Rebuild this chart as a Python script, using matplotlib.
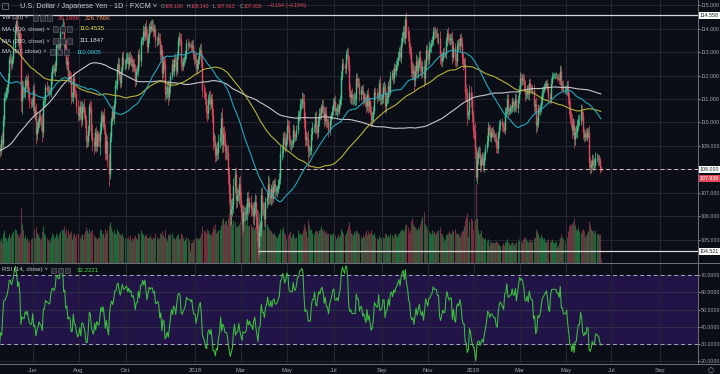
import numpy as np
import pandas as pd
import matplotlib
matplotlib.use("Agg")
import matplotlib.pyplot as plt
from matplotlib.patches import Rectangle
from matplotlib.lines import Line2D
from matplotlib.transforms import blended_transform_factory

plt.rcParams['font.family'] = ['Liberation Sans', 'DejaVu Sans']

# USD/JPY daily, FXCM. Closes, one line per month.
# Bars before the visible window only seed the moving averages and the RSI.
pre_close = [
    104.5, 104.7, 105.6, 104.9, 106.2, 106.1, 106.9, 105.8, 106.1, 106.2, 104.6, 105.2, 105.0, 102.1,
    102.3, 101.3, 101.2, 100.8, 101.8, 102.5, 101.8, 101.4, 101.0, 101.3, 100.2, 101.2, 100.3, 99.9, 100.2, 100.7, 100.3, 100.5, 100.5, 101.8, 102.1, 102.3, 103.3,
    103.5, 104.0, 103.4, 102.0, 101.7, 102.0, 102.6, 102.7, 102.3, 102.0, 101.9, 102.1, 101.7, 100.8, 100.4, 101.0, 100.6, 100.3, 100.8, 101.3, 100.5, 101.3,
    101.6, 102.8, 103.4, 103.5, 102.9, 103.7, 104.0, 103.8, 103.6, 103.7, 104.0, 104.0, 103.9, 103.5, 103.8, 103.9, 104.2, 104.3, 104.5, 104.6, 104.8,
    104.2, 103.1, 103.1, 103.1, 104.5, 105.3, 105.7, 106.8, 106.6, 108.1, 109.1, 109.0, 110.2, 110.9, 110.8, 111.0, 112.5, 113.3, 113.2, 112.0, 112.4, 114.4,
    114.0, 113.6, 114.0, 113.8, 114.0, 114.2, 115.2, 115.3, 115.3, 115.1, 117.8, 118.0, 117.9, 117.2, 117.6, 117.6, 117.5, 117.3, 117.3, 117.7, 116.6, 116.9,
    117.5, 117.8, 116.3, 116.9, 117.0, 115.9, 116.0, 114.4, 114.6, 112.7, 113.3, 114.8, 114.6, 112.8, 113.5, 113.7, 113.3, 114.6, 115.0, 113.6, 112.8, 112.8,
    113.0, 113.2, 112.6, 112.4, 111.9, 111.9, 113.3, 113.2, 113.2, 113.7, 114.5, 113.7, 113.2, 112.8, 113.5, 113.6, 113.3, 112.6, 112.1, 112.8,
    114.0, 114.0, 114.1, 113.8, 114.0, 114.3, 114.8, 114.8, 114.7, 114.7, 113.4, 112.7, 112.7, 112.7, 112.0, 111.6, 110.8, 111.2, 110.7, 111.0, 111.1, 111.4, 111.4,
    110.4, 110.7, 110.7, 110.8, 111.1, 110.6, 109.8, 109.0, 109.1, 108.6, 108.7,
]
first_day = '2017-04-18'

close_2017 = [
    108.9, 108.8, 109.3, 109.1, 110.1, 111.1, 111.1, 111.3, 111.5,
    111.9, 112.7, 112.7, 112.5, 112.7, 113.2, 114.0, 114.3, 113.9, 113.4, 113.8, 113.2, 110.9, 111.5, 111.3, 111.3, 111.8, 111.6, 111.8, 111.3, 110.9, 110.8, 110.8,
    111.4, 110.4, 110.5, 109.5, 109.8, 110.0, 110.3, 110.1, 110.0, 109.6, 110.9, 110.9, 111.5, 111.4, 111.4, 111.3, 111.3, 111.9, 112.3, 112.3, 112.2, 112.4,
    113.3, 113.3, 113.2, 113.2, 113.9, 114.0, 114.0, 113.2, 113.3, 112.5, 112.6, 111.9, 112.0, 111.9, 111.1, 111.1, 111.9, 111.3, 111.2, 110.7, 110.3,
    110.4, 110.7, 110.1, 110.7, 110.7, 110.4, 110.1, 109.2, 109.2, 109.7, 110.7, 110.6, 109.6, 109.2, 109.0, 109.6, 109.0, 109.5, 109.3, 109.2, 109.7, 110.3, 110.0,
    110.3, 109.7, 108.7, 109.2, 108.4, 107.8, 109.4, 110.1, 110.5, 110.2, 110.8, 111.6, 111.6, 112.3, 112.5, 112.0, 111.7, 112.2, 112.8, 112.5, 112.5,
    112.7, 112.8, 112.5, 112.8, 112.6, 112.7, 112.4, 112.5, 112.3, 111.8, 112.2, 112.2, 112.9, 112.6, 113.5, 113.5, 113.9, 113.7, 114.1, 113.7, 113.2, 113.6,
    114.1, 114.0, 114.1, 114.1, 113.9, 114.0, 113.5, 113.5, 113.6, 113.5, 112.9, 113.1, 112.1, 112.6, 112.5, 111.2, 111.3, 111.5, 111.1, 111.5, 112.0, 112.5,
    112.2, 112.7, 112.6, 112.2, 112.9, 113.5, 113.6, 113.5, 112.5, 112.4, 112.6, 112.7, 112.9, 113.4, 113.3, 113.3, 113.3, 113.2, 113.3, 112.9, 112.7,
]
close_2018 = [
    112.7, 112.3, 112.5, 112.7, 113.0, 113.1, 112.6, 111.4, 111.3, 111.0, 110.5, 110.4, 111.0, 111.1, 110.8, 111.0, 110.3, 109.2, 109.2, 108.6, 108.9, 108.7, 109.2,
    109.4, 110.2, 109.1, 109.5, 109.3, 108.8, 108.8, 108.7, 107.8, 107.0, 106.1, 106.3, 106.5, 107.3, 107.8, 106.7, 106.9, 106.9, 107.4, 106.7,
    106.2, 105.7, 106.2, 106.1, 106.1, 106.2, 106.8, 106.4, 106.6, 106.3, 106.3, 106.0, 106.4, 106.6, 105.9, 105.3, 104.7, 105.4, 105.5, 106.9, 106.3, 106.3,
    105.9, 106.6, 106.8, 107.4, 106.9, 106.8, 107.2, 106.8, 107.3, 107.4, 107.1, 107.1, 107.2, 107.4, 107.6, 108.7, 108.8, 109.4, 109.3, 109.0, 109.3,
    109.9, 109.8, 109.2, 109.1, 109.1, 109.1, 109.7, 109.4, 109.4, 109.7, 110.3, 110.3, 110.8, 110.8, 111.0, 110.9, 110.1, 109.3, 109.4, 109.3, 108.8, 108.8, 108.8,
    109.5, 109.8, 109.8, 110.2, 109.7, 109.6, 110.1, 110.4, 110.3, 110.6, 110.7, 110.5, 110.1, 110.4, 110.0, 110.0, 109.7, 110.1, 110.3, 110.5, 110.8,
    110.9, 110.5, 110.5, 110.6, 110.5, 110.8, 111.0, 112.0, 112.5, 112.4, 112.3, 112.9, 112.9, 112.5, 111.4, 111.1, 111.2, 111.0, 111.0, 111.0, 111.0, 111.9,
    111.7, 111.7, 111.2, 111.4, 111.4, 111.0, 111.1, 110.9, 110.7, 111.2, 110.7, 110.9, 110.5, 110.1, 110.2, 110.5, 111.3, 111.2, 111.1, 111.1, 111.7, 111.0, 111.0,
    111.1, 111.5, 111.5, 110.7, 111.0, 111.1, 111.6, 111.3, 112.0, 112.1, 111.9, 112.3, 112.2, 112.5, 112.6, 112.8, 113.0, 112.8, 113.4, 113.7,
    113.9, 113.6, 114.4, 113.9, 113.7, 113.2, 113.0, 112.3, 112.1, 112.2, 111.8, 112.2, 112.6, 112.2, 112.5, 112.8, 112.4, 112.2, 112.4, 111.9, 112.4, 113.1, 112.9,
    112.7, 113.2, 113.2, 113.4, 113.5, 113.9, 113.8, 113.8, 113.8, 113.6, 113.6, 112.8, 112.6, 112.8, 113.0, 112.9, 112.9, 113.5, 113.8, 113.6, 113.5, 113.6,
    113.6, 112.8, 113.2, 112.7, 112.6, 113.3, 113.4, 113.3, 113.6, 113.4, 112.8, 112.5, 112.5, 111.3, 111.2, 110.3, 110.4, 111.3, 111.0, 110.3, 109.7,
]
close_2019 = [
    109.6, 108.9, 107.7, 108.5, 108.7, 108.7, 108.2, 108.4, 108.5, 108.2, 108.6, 108.9, 109.2, 109.8, 109.7, 109.4, 109.6, 109.6, 109.5, 109.4, 109.4, 109.0, 108.9,
    109.5, 109.9, 110.0, 109.9, 109.8, 109.7, 110.4, 110.5, 111.0, 110.5, 110.5, 110.6, 110.6, 110.9, 110.7, 110.7, 111.0, 110.6, 111.0, 111.4,
    111.9, 111.8, 111.9, 111.8, 111.6, 111.2, 111.2, 111.4, 111.2, 111.7, 111.5, 111.4, 111.4, 110.7, 110.8, 109.9, 110.0, 110.6, 110.5, 110.6, 110.9,
    111.3, 111.4, 111.5, 111.6, 111.7, 111.5, 111.1, 111.0, 111.7, 112.0, 112.0, 112.0, 112.0, 112.0, 111.9, 111.9, 111.8, 112.2, 111.6, 111.6, 111.4, 111.4,
    111.4, 111.5, 111.1, 110.7, 110.2, 110.1, 109.7, 109.9, 109.3, 109.6, 109.6, 109.9, 110.1, 110.1, 110.5, 110.3, 109.6, 109.4, 109.5, 109.4, 109.6, 109.6, 108.3,
    108.1, 108.2, 108.4, 108.2, 108.2, 108.5, 108.5, 108.4, 108.4, 108.1, 107.936,
]

# upper / lower wicks beyond the body, in hundredths of a yen
up_2017 = [
    25, 20, 15, 30, 20, 15, 25, 20, 15,
    20, 15, 25, 20, 15, 30, 20, 10, 30, 25, 15, 20, 60, 30, 25, 20, 15, 25, 20, 30, 20, 15, 25,
    20, 30, 20, 35, 25, 20, 15, 25, 20, 40, 20, 25, 15, 25, 20, 15, 20, 25, 15, 20, 25, 20,
    15, 20, 25, 20, 15, 20, 45, 30, 20, 25, 20, 30, 25, 20, 25, 20, 15, 30, 25, 20, 25,
    30, 20, 25, 20, 15, 30, 25, 20, 25, 20, 15, 25, 30, 35, 20, 15, 25, 20, 15, 25, 30, 20, 25,
    15, 30, 25, 35, 25, 30, 20, 15, 20, 25, 15, 20, 20, 25, 30, 25, 20, 15, 20, 25, 20,
    25, 20, 15, 20, 25, 20, 15, 20, 25, 20, 15, 25, 20, 25, 15, 20, 25, 20, 15, 25, 30, 20,
    15, 20, 25, 30, 25, 20, 15, 20, 25, 20, 30, 25, 20, 25, 20, 35, 25, 20, 30, 20, 15, 20,
    20, 15, 25, 20, 15, 20, 25, 20, 30, 25, 20, 15, 20, 15, 20, 15, 10, 15, 20, 25, 20,
]
up_2018 = [
    20, 25, 20, 15, 20, 25, 30, 35, 25, 20, 30, 25, 20, 25, 30, 20, 25, 30, 35, 25, 20, 25, 30,
    35, 25, 40, 30, 35, 40, 30, 25, 35, 30, 40, 45, 30, 35, 25, 30, 35, 25, 30, 35,
    40, 35, 30, 25, 30, 35, 25, 30, 25, 30, 25, 30, 25, 35, 30, 40, 35, 30, 25, 30, 35, 30,
    30, 25, 30, 35, 30, 25, 20, 30, 25, 20, 25, 20, 15, 20, 25, 30, 25, 20, 25, 30, 20,
    25, 20, 30, 25, 20, 15, 25, 20, 15, 20, 25, 20, 25, 20, 30, 25, 30, 35, 25, 20, 40, 25, 20,
    25, 20, 15, 25, 30, 20, 15, 20, 25, 20, 25, 30, 20, 25, 30, 20, 25, 20, 15, 20, 25,
    20, 25, 15, 20, 25, 20, 15, 20, 25, 20, 15, 20, 25, 30, 35, 25, 20, 25, 20, 30, 25, 20,
    20, 25, 20, 15, 20, 25, 20, 15, 25, 20, 25, 20, 15, 20, 25, 20, 15, 20, 25, 20, 15, 30, 20,
    15, 20, 25, 20, 30, 20, 15, 25, 20, 15, 20, 25, 20, 15, 20, 25, 20, 25, 20, 15,
    20, 25, 15, 30, 20, 25, 20, 25, 30, 35, 25, 20, 30, 25, 20, 25, 30, 25, 20, 30, 25, 20, 25,
    20, 25, 20, 15, 20, 15, 20, 25, 20, 25, 20, 30, 25, 20, 15, 20, 10, 15, 20, 25, 20, 15,
    20, 30, 25, 20, 25, 20, 15, 20, 15, 20, 25, 20, 25, 30, 35, 25, 15, 30, 25, 30, 25,
]
up_2019 = [
    20, 40, 10, 30, 25, 30, 25, 20, 25, 20, 15, 20, 25, 20, 15, 20, 15, 20, 25, 20, 15, 20, 25,
    15, 20, 15, 20, 15, 20, 25, 15, 20, 25, 15, 20, 15, 20, 15, 20, 25, 20, 15, 20,
    25, 20, 15, 20, 25, 20, 15, 20, 25, 15, 20, 15, 20, 25, 20, 30, 25, 20, 15, 20, 25,
    20, 15, 20, 15, 10, 15, 20, 15, 20, 15, 10, 15, 10, 15, 10, 15, 20, 25, 20, 15, 20, 15,
    20, 25, 30, 20, 25, 30, 25, 30, 25, 20, 30, 25, 20, 25, 30, 25, 20, 15, 20, 25, 20, 15, 30,
    25, 20, 25, 20, 30, 25, 20, 15, 20, 15, 4,
]
dn_2017 = [
    30, 25, 20, 15, 20, 25, 20, 15, 20,
    25, 20, 15, 25, 20, 15, 20, 25, 20, 15, 25, 30, 40, 55, 25, 20, 25, 15, 20, 25, 30, 20, 15,
    25, 20, 30, 40, 25, 20, 25, 20, 30, 45, 20, 25, 20, 15, 25, 20, 15, 20, 25, 20, 15, 20,
    20, 15, 20, 25, 20, 15, 20, 25, 30, 20, 25, 20, 15, 25, 30, 20, 25, 20, 15, 30, 25,
    20, 25, 30, 20, 25, 20, 35, 30, 25, 20, 25, 20, 30, 40, 35, 20, 25, 20, 30, 25, 60, 20, 15,
    25, 20, 30, 25, 30, 50, 20, 25, 20, 15, 25, 20, 15, 20, 25, 20, 25, 20, 15, 20, 25,
    20, 15, 25, 20, 15, 20, 25, 20, 15, 30, 20, 15, 20, 25, 20, 15, 20, 25, 20, 15, 25, 20,
    20, 25, 15, 20, 25, 20, 30, 25, 20, 15, 25, 20, 30, 20, 25, 30, 20, 25, 35, 20, 25, 15,
    15, 20, 25, 20, 15, 20, 25, 20, 25, 20, 15, 20, 15, 20, 25, 15, 10, 20, 15, 20, 25,
]
dn_2018 = [
    15, 25, 20, 25, 20, 15, 25, 30, 25, 20, 30, 35, 25, 20, 25, 20, 30, 35, 25, 30, 25, 30, 25,
    30, 35, 40, 35, 30, 40, 35, 30, 40, 45, 50, 40, 30, 35, 30, 35, 30, 25, 35, 30,
    35, 45, 30, 35, 30, 25, 30, 35, 25, 30, 25, 30, 35, 30, 40, 35, 45, 30, 25, 35, 30, 25,
    30, 35, 25, 30, 35, 25, 30, 25, 20, 25, 30, 20, 25, 20, 25, 20, 30, 25, 20, 25, 20,
    20, 25, 20, 25, 30, 20, 15, 25, 20, 15, 20, 25, 20, 25, 20, 30, 35, 30, 25, 30, 70, 25, 20,
    20, 25, 20, 25, 20, 30, 20, 25, 20, 15, 20, 25, 30, 20, 25, 20, 30, 25, 20, 15, 20,
    25, 20, 20, 25, 20, 15, 20, 25, 20, 15, 20, 25, 20, 25, 30, 25, 30, 20, 25, 20, 30, 25,
    25, 20, 30, 25, 20, 25, 20, 25, 30, 20, 30, 25, 20, 30, 25, 20, 15, 20, 25, 20, 15, 25, 20,
    20, 25, 20, 30, 25, 20, 25, 20, 15, 20, 25, 20, 15, 20, 25, 20, 15, 20, 25, 20,
    25, 20, 25, 30, 25, 30, 25, 35, 30, 25, 40, 25, 20, 25, 30, 20, 35, 30, 25, 40, 25, 20, 25,
    25, 20, 25, 20, 15, 20, 25, 20, 15, 20, 25, 30, 20, 25, 20, 15, 10, 20, 25, 20, 15, 20,
    25, 30, 20, 30, 25, 20, 25, 20, 25, 20, 30, 25, 20, 35, 30, 40, 15, 30, 35, 30, 35,
]
dn_2019 = [
    30, 40, 20, 30, 25, 20, 30, 25, 20, 25, 30, 20, 15, 20, 25, 20, 25, 20, 15, 20, 25, 30, 20,
    20, 15, 20, 25, 20, 15, 20, 15, 20, 25, 20, 15, 20, 15, 20, 25, 20, 15, 20, 15,
    20, 25, 20, 15, 20, 30, 20, 15, 20, 25, 20, 15, 20, 25, 30, 35, 25, 20, 15, 20, 15,
    15, 20, 15, 10, 15, 20, 25, 20, 15, 10, 15, 10, 15, 10, 15, 10, 15, 20, 25, 20, 15, 20,
    20, 25, 30, 40, 25, 30, 35, 25, 40, 25, 20, 25, 20, 25, 20, 25, 30, 25, 20, 15, 20, 25, 30,
    30, 25, 20, 25, 20, 15, 20, 25, 20, 25, 2,
]

# daily volume, thousands
vol_2017 = [
    180, 170, 190, 160, 230, 250, 200, 190, 170,
    200, 220, 190, 210, 230, 240, 260, 250, 230, 210, 200, 230, 420, 300, 250, 190, 210, 180, 190, 170, 160, 180, 190,
    220, 260, 190, 270, 230, 220, 200, 180, 190, 240, 280, 230, 210, 190, 170, 180, 160, 200, 230, 210, 190, 200,
    230, 210, 190, 220, 240, 260, 250, 280, 230, 260, 200, 250, 220, 230, 240, 180, 210, 230, 200, 220, 230,
    200, 190, 210, 220, 180, 220, 240, 270, 250, 230, 260, 230, 240, 250, 210, 200, 190, 180, 200, 190, 260, 250, 220,
    230, 200, 260, 230, 250, 290, 310, 270, 240, 230, 250, 230, 220, 260, 240, 230, 220, 210, 230, 200, 190,
    180, 190, 200, 180, 210, 170, 190, 180, 200, 210, 190, 180, 230, 220, 250, 230, 220, 200, 210, 220, 200, 190,
    200, 210, 190, 180, 200, 190, 230, 200, 180, 190, 230, 220, 240, 210, 200, 250, 190, 170, 220, 210, 220, 230,
    200, 190, 180, 200, 210, 220, 180, 190, 230, 210, 190, 170, 180, 200, 190, 170, 90, 150, 160, 170, 180,
]
vol_2018 = [
    110, 200, 190, 180, 190, 200, 230, 280, 250, 240, 230, 260, 250, 230, 220, 210, 240, 280, 260, 300, 230, 240, 250,
    260, 290, 330, 340, 300, 320, 330, 290, 340, 380, 420, 360, 300, 330, 310, 280, 270, 290, 300, 320,
    350, 380, 330, 300, 310, 290, 340, 280, 290, 300, 270, 280, 260, 270, 310, 350, 400, 380, 330, 360, 320, 260,
    260, 280, 300, 270, 260, 250, 240, 230, 220, 230, 210, 200, 190, 210, 230, 260, 250, 270, 230, 220, 180,
    200, 210, 230, 240, 200, 210, 230, 200, 190, 200, 250, 220, 230, 210, 230, 250, 300, 270, 240, 200, 330, 290, 250,
    260, 230, 220, 240, 250, 240, 230, 250, 260, 280, 260, 240, 250, 230, 240, 220, 230, 220, 210, 220, 230,
    220, 210, 180, 200, 220, 200, 210, 260, 240, 230, 210, 230, 250, 280, 310, 260, 230, 220, 210, 240, 230, 250,
    240, 230, 220, 200, 190, 210, 200, 230, 250, 210, 240, 220, 230, 250, 220, 210, 230, 200, 190, 180, 210, 200, 190,
    160, 200, 190, 230, 220, 200, 210, 200, 220, 210, 190, 220, 230, 210, 200, 220, 230, 240, 250, 260,
    240, 250, 290, 300, 270, 230, 250, 320, 340, 300, 280, 270, 260, 250, 270, 260, 300, 330, 350, 390, 300, 280, 260,
    250, 240, 230, 220, 250, 230, 240, 220, 230, 240, 250, 270, 230, 220, 200, 170, 180, 210, 220, 230, 240, 230,
    220, 250, 240, 260, 230, 220, 230, 210, 200, 230, 240, 250, 280, 330, 350, 380, 200, 320, 340, 330, 260,
]
vol_2019 = [
    150, 330, 600, 340, 250, 220, 230, 250, 200, 190, 180, 190, 170, 180, 140, 170, 160, 150, 160, 150, 160, 170, 160,
    150, 140, 130, 140, 150, 140, 160, 170, 180, 160, 150, 140, 150, 160, 150, 140, 150, 160, 170, 180,
    200, 170, 160, 180, 190, 200, 180, 170, 160, 170, 180, 160, 170, 200, 190, 260, 240, 220, 200, 190, 210,
    200, 180, 190, 170, 160, 170, 180, 160, 170, 180, 160, 150, 160, 170, 120, 140, 160, 190, 220, 200, 180, 160,
    220, 200, 240, 280, 300, 290, 300, 310, 340, 290, 260, 250, 270, 240, 230, 250, 260, 240, 200, 210, 230, 240, 320,
    290, 260, 240, 250, 230, 250, 220, 230, 210, 220, 28,
]

# month grid / labels along the time axis
tick_months = ['2017-06', '2017-08', '2017-10', '2018-01', '2018-03', '2018-05', '2018-07',
               '2018-09', '2018-11', '2019-01', '2019-03', '2019-05', '2019-07', '2019-09']
tick_labels = ['Jun', 'Aug', 'Oct', '2018', 'Mar', 'May', 'Jul', 'Sep', 'Nov', '2019', 'Mar', 'May', 'Jul', 'Sep']

price_ticks = [105, 106, 107, 108, 109, 110, 111, 112, 113, 114, 115]
rsi_ticks = [20, 30, 40, 50, 60, 70]
resistance = 114.558
support = 104.521
marked_level = 108.0


# ---------------------------------------------------------------------------
BG = '#0c0e17'
GRID = '#22252f'
SEP = '#6e717a'
UP = '#45c38c'
DOWN = '#e2485b'
VOL_UP = '#1f683b'
VOL_DN = '#70303d'
TXT = '#c9ccd4'
AXTXT = '#a3a6af'
AXSIZE = 3.8

full = np.array(pre_close + close_2017 + close_2018 + close_2019, dtype=float)
n_pre = len(pre_close)
close = full[n_pre:]
opens = full[n_pre - 1:-1]
up_w = np.array(up_2017 + up_2018 + up_2019) / 100.0
dn_w = np.array(dn_2017 + dn_2018 + dn_2019) / 100.0
volume = np.array(vol_2017 + vol_2018 + vol_2019, dtype=float)
n = len(close)
assert len(up_w) == len(dn_w) == len(volume) == n, (n, len(up_w), len(dn_w), len(volume))

top = np.maximum(opens, close)
bot = np.minimum(opens, close)
high = top + up_w
low = bot - dn_w
rising = close >= opens
x = np.arange(n)

s = pd.Series(full)
ma50 = s.rolling(50).mean().to_numpy()[n_pre:]
ma100 = s.rolling(100).mean().to_numpy()[n_pre:]
ma200 = s.rolling(200).mean().to_numpy()[n_pre:]
delta = s.diff()
gain = delta.clip(lower=0).ewm(alpha=1 / 14, adjust=False).mean()
loss = (-delta.clip(upper=0)).ewm(alpha=1 / 14, adjust=False).mean()
rsi = (100 - 100 / (1 + gain / loss)).to_numpy()[n_pre:]

cal = pd.bdate_range(first_day, '2019-10-31').strftime('%Y-%m')
tick_pos = [int(np.argmax(cal == m)) for m in tick_months]

W, H = 720, 374
fig = plt.figure(figsize=(W / 100, H / 100), dpi=100, facecolor=BG)


def fx(px):
    return px / W


def fy(py):
    return 1 - py / H


ax = fig.add_axes([0, fy(263), fx(698), 263 / H], facecolor=BG)
ax_rsi = fig.add_axes([0, fy(364), fx(698), 101 / H], facecolor=BG, sharex=ax)

ax.set_xlim(1.4, 655)
ax.set_ylim(104.021, 115.213)
ax_rsi.set_ylim(18.55, 76.9)

for a in (ax, ax_rsi):
    for sp in a.spines.values():
        sp.set_visible(False)
    a.set_xticks(tick_pos)
    a.grid(axis='x', color=GRID, lw=0.8, zorder=0)
    a.yaxis.tick_right()
    a.tick_params(axis='y', colors=AXTXT, labelsize=AXSIZE, length=1.2, width=0.6, pad=0.6)

ax.tick_params(axis='x', bottom=False, labelbottom=False)
ax_rsi.set_xticklabels(tick_labels)
ax_rsi.tick_params(axis='x', colors=AXTXT, labelsize=4.2, length=0, pad=3)

# price pane; the 108 label is carried by its tag below
ax.set_yticks(price_ticks)
ax.set_yticklabels(['' if v == marked_level else f'{v:.3f}' for v in price_ticks])
for v in price_ticks:
    ax.axhline(v, color=GRID, lw=0.8, zorder=0)

xa = ax.get_xaxis_transform()
ax.vlines(x, 0, volume / 2000.0, transform=xa,
          colors=np.where(rising, VOL_UP, VOL_DN), lw=0.8, zorder=1)

cols = np.where(rising, UP, DOWN)
ax.vlines(x, low, high, colors=cols, lw=0.5, zorder=3)
ax.vlines(x, bot, top, colors=cols, lw=1.0, zorder=3)

ax.plot(x, ma200, color='#c6c6c6', lw=0.8, zorder=4)
ax.plot(x, ma100, color='#b4b23a', lw=0.8, zorder=4)
ax.plot(x, ma50, color='#22a7b9', lw=0.8, zorder=4)

ax.axhline(resistance, color='#d6d6d6', lw=0.9, zorder=5)
ax.hlines(support, int(np.argmin(low)), 700, color='#d6d6d6', lw=0.9, zorder=5)
ax.axhline(marked_level, color='#dcbcc4', lw=0.7, ls=(0, (4, 3)), zorder=5)

yt = blended_transform_factory(ax.transAxes, ax.transData)
tags = [(resistance, '114.558', 'white', '#131722'),
        (marked_level, '108.000', 'white', '#131722'),
        (close[-1] - 0.33, f'{close[-1]:.3f}', DOWN, 'white'),
        (support, '104.521', 'white', '#131722')]
for val, txt, fc, tc in tags:
    ax.text(1.0025, val, txt, transform=yt, fontsize=AXSIZE, color=tc, va='center', ha='left',
            bbox=dict(boxstyle='square,pad=0.18', fc=fc, ec='none'), zorder=10)

# RSI pane
ax_rsi.axhspan(30, 70, color='#221447', zorder=0)
ax_rsi.set_yticks(rsi_ticks)
ax_rsi.set_yticklabels([f'{v:.4f}' for v in rsi_ticks])
for v in (20, 40, 50, 60):
    ax_rsi.axhline(v, color='#2e2f4a' if v != 20 else GRID, lw=0.8, zorder=1)
for v in (30, 70):
    ax_rsi.axhline(v, color='#a9a9b4', lw=0.7, ls=(0, (4, 3)), zorder=2)
ax_rsi.plot(x, rsi, color='#3dc13d', lw=0.75, zorder=3)

# pane separators and price-scale border
for y0 in (263, 364):
    fig.add_artist(Line2D([0, 1], [fy(y0), fy(y0)], color=SEP, lw=0.7))
fig.add_artist(Line2D([fx(698), fx(698)], [fy(0), fy(364)], color=SEP, lw=0.7))


def icons(px, py):
    for k in range(3):
        fig.add_artist(Rectangle((fx(px + 7 * k), fy(py + 2.5)), 5 / W, 5 / H,
                                 fc='#2b2e38', ec='#6a6d77', lw=0.4))


def label(px, py, txt, color=TXT, size=4.4, **kw):
    fig.text(fx(px), fy(py), txt, color=color, fontsize=size, va='center', ha='left', **kw)


# header
fig.add_artist(Rectangle((fx(2), fy(9)), 6 / W, 6 / H, fc='none', ec='#7d808a', lw=0.5))
label(20, 6, 'U.S. Dollar / Japanese Yen · 1D · FXCM ˅', size=5.3)
for px, letter, num in [(161, 'O', '108.100'), (187, 'H', '108.143'),
                        (213, 'L', '107.913'), (240, 'C', '107.936')]:
    label(px, 6, letter, color=AXTXT, size=3.7)
    label(px + 3.5, 6, num, color=DOWN, size=3.7)
label(268, 6, '−0.164 (−0.15%)', color=DOWN, size=3.7)

label(2, 18, 'Vol (20) ˅')
icons(33, 18)
label(58, 18, '28.188K', color=DOWN)
label(85, 18, '226.786K', color='#f08a5d')

label(2, 29, 'MA (100, close) ˅')
icons(53, 29)
label(80, 29, '110.4535', color='#e6e23c')

label(2, 41, 'MA (200, close) ˅')
icons(53, 41)
label(80, 41, '111.1847', color='#e8e8e8')

label(2, 52, 'MA (50, close) ˅')
icons(50, 52)
label(77, 52, '110.0005', color='#35cde3')

label(2, 270, 'RSI (14, close) ˅')
icons(51, 270)
label(77, 270, '32.2221', color='#4ad94a')

fig.text(fx(711), fy(370), '○', color=AXTXT, fontsize=5, ha='center', va='center',
         family=['DejaVu Sans'])

fig.savefig('out.png', dpi=100, facecolor=BG)
